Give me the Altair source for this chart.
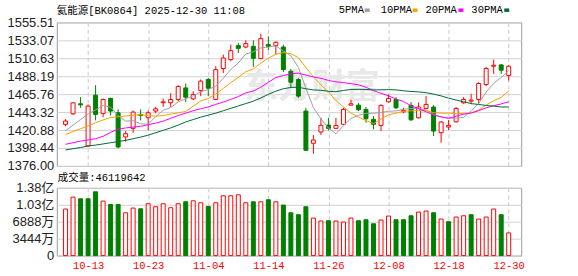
import altair as alt
import pandas as pd

# ---------------- data ----------------
dates = ["09-30", "10-09", "10-10", "10-13", "10-14", "10-15", "10-16", "10-17", "10-20", "10-21",
         "10-22", "10-23", "10-24", "10-27", "10-28", "10-29", "10-30", "10-31", "11-03", "11-04",
         "11-05", "11-06", "11-07", "11-10", "11-11", "11-12", "11-13", "11-14", "11-17", "11-18",
         "11-19", "11-20", "11-21", "11-24", "11-25", "11-26", "11-27", "11-28", "12-01", "12-02",
         "12-03", "12-04", "12-05", "12-08", "12-09", "12-10", "12-11", "12-12", "12-15", "12-16",
         "12-17", "12-18", "12-19", "12-22", "12-23", "12-24", "12-25", "12-26", "12-29", "12-30"]

open_ = [1428.0, 1441.2, 1453.7, 1400.9, 1464.5, 1441.7, 1460.4, 1442.4, 1412.2, 1423.0,
         1440.4, 1436.2, 1444.6, 1455.0, 1455.0, 1459.1, 1473.6, 1459.9, 1470.4, 1484.1,
         1459.1, 1497.8, 1509.0, 1526.5, 1524.7, 1525.6, 1510.3, 1527.7, 1526.5, 1524.7,
         1494.4, 1484.1, 1444.6, 1404.3, 1418.4, 1427.1, 1423.0, 1428.0, 1452.0, 1452.0,
         1446.7, 1434.2, 1426.7, 1456.2, 1459.1, 1443.7, 1451.7, 1436.2, 1447.9, 1449.6,
         1417.5, 1424.6, 1431.2, 1454.9, 1457.0, 1459.1, 1477.8, 1500.7, 1502.3, 1489.1]
high = [1434.6, 1455.8, 1462.0, 1453.0, 1477.0, 1460.4, 1461.5, 1446.7, 1419.6, 1445.4,
        1446.7, 1445.4, 1449.9, 1460.4, 1467.0, 1477.0, 1479.1, 1469.5, 1484.1, 1486.1,
        1500.7, 1515.2, 1527.7, 1529.7, 1533.1, 1533.1, 1541.4, 1538.0, 1531.8, 1527.7,
        1497.3, 1486.1, 1448.7, 1414.6, 1436.2, 1436.2, 1436.2, 1448.7, 1458.7, 1454.5,
        1449.6, 1438.3, 1452.9, 1465.4, 1462.0, 1448.7, 1455.8, 1455.4, 1463.3, 1452.0,
        1432.1, 1433.3, 1449.6, 1462.0, 1466.1, 1480.7, 1499.8, 1509.0, 1503.5, 1501.9]
low = [1425.5, 1439.6, 1448.7, 1399.5, 1433.0, 1437.0, 1439.2, 1398.1, 1406.3, 1417.5,
       1433.0, 1420.5, 1441.7, 1450.0, 1450.0, 1457.0, 1455.8, 1458.3, 1463.3, 1463.3,
       1458.3, 1492.3, 1506.9, 1517.2, 1523.1, 1499.8, 1509.4, 1520.6, 1515.2, 1493.2,
       1473.6, 1461.1, 1394.7, 1391.3, 1414.6, 1420.5, 1422.1, 1427.1, 1451.4, 1444.6,
       1430.0, 1421.7, 1419.6, 1455.2, 1447.1, 1442.0, 1432.1, 1435.2, 1447.1, 1413.4,
       1405.0, 1420.9, 1430.2, 1453.7, 1453.7, 1453.7, 1475.7, 1491.1, 1491.1, 1482.8]
close = [1432.1, 1454.9, 1452.4, 1450.8, 1440.4, 1459.1, 1444.6, 1399.7, 1416.3, 1443.3,
         1439.2, 1442.4, 1447.4, 1456.2, 1459.1, 1475.3, 1462.0, 1465.4, 1482.0, 1473.2,
         1496.5, 1511.0, 1520.2, 1523.1, 1529.0, 1510.6, 1535.2, 1525.6, 1530.6, 1496.5,
         1480.7, 1463.3, 1395.6, 1408.4, 1426.7, 1423.0, 1426.7, 1446.7, 1453.7, 1446.2,
         1435.0, 1428.0, 1451.7, 1460.4, 1448.7, 1445.4, 1433.7, 1449.6, 1452.9, 1419.6,
         1430.9, 1426.7, 1447.9, 1459.1, 1458.3, 1479.1, 1497.8, 1501.9, 1495.7, 1500.7]
# volume in units of 万 (10k)
volume_wan = [9460, 11890, 11550, 11550, 12970, 11080, 10400, 10400, 8710, 9660,
              9520, 10540, 9930, 10540, 9730, 10540, 10940, 11140, 10740, 9990,
              10740, 12160, 12160, 12360, 10740, 10940, 10940, 11350, 10940, 10270,
              8710, 8310, 9930, 7630, 7030, 7090, 7030, 6830, 7630, 7090,
              7290, 6480, 7230, 8040, 7290, 7290, 8100, 8850, 9060, 8710,
              7430, 6890, 7840, 8100, 8310, 7430, 7840, 9460, 8310, 4612]

ma5 = [1420, 1427, 1434, 1441, 1446.1, 1451.5, 1449.5, 1438.9, 1432.0, 1432.6,
       1428.6, 1428.2, 1437.7, 1445.7, 1448.9, 1456.1, 1460.0, 1463.6, 1468.8, 1471.6,
       1475.8, 1485.6, 1496.6, 1504.8, 1516.0, 1518.8, 1523.6, 1524.7, 1526.2, 1519.7,
       1513.7, 1499.3, 1473.3, 1448.9, 1434.9, 1423.4, 1416.1, 1426.3, 1435.4, 1439.3,
       1441.7, 1441.9, 1442.9, 1444.3, 1444.8, 1446.8, 1448.0, 1447.6, 1446.1, 1440.2,
       1437.3, 1435.9, 1435.6, 1436.8, 1444.6, 1454.2, 1468.4, 1479.2, 1486.6, 1495.0]
ma10 = [1415, 1419, 1422.5, 1426, 1430, 1433.5, 1436.5, 1437.5, 1438.5, 1439.4,
        1440.1, 1438.9, 1438.3, 1438.9, 1440.8, 1442.4, 1444.1, 1450.7, 1457.3, 1460.3,
        1466.0, 1472.8, 1480.1, 1486.8, 1493.8, 1497.3, 1504.6, 1510.7, 1515.5, 1517.9,
        1516.3, 1511.5, 1499.0, 1487.6, 1477.3, 1468.6, 1457.7, 1449.8, 1442.2, 1437.1,
        1432.6, 1429.0, 1434.6, 1439.9, 1442.1, 1444.3, 1445.0, 1445.3, 1445.2, 1442.5,
        1442.1, 1442.0, 1441.6, 1441.5, 1442.4, 1445.8, 1452.2, 1457.4, 1461.7, 1469.8]
ma20 = [1403, 1405, 1407, 1408.5, 1410, 1413, 1418, 1422, 1423.5, 1424.5,
        1425.5, 1427.5, 1429.5, 1432, 1435.5, 1439, 1442, 1445, 1447.5, 1449.8,
        1453.0, 1455.8, 1459.2, 1462.8, 1467.3, 1469.8, 1474.4, 1480.7, 1486.4, 1489.1,
        1491.1, 1492.1, 1489.6, 1487.2, 1485.6, 1482.9, 1481.2, 1480.2, 1478.8, 1477.5,
        1474.4, 1470.2, 1466.8, 1463.7, 1459.7, 1456.4, 1451.3, 1447.5, 1443.7, 1439.8,
        1437.3, 1435.5, 1438.1, 1440.7, 1442.2, 1445.0, 1448.6, 1451.3, 1453.5, 1456.2]
ma30 = [1396, 1397.5, 1399, 1401, 1402, 1403.5, 1405, 1406.5, 1408, 1410,
        1412, 1414.5, 1417.5, 1420.5, 1423.5, 1427, 1431, 1434, 1437, 1439.5,
        1442, 1445, 1448, 1451, 1454, 1457, 1461, 1465.5, 1469.5, 1472.5,
        1474.1, 1474.4, 1472.5, 1471.1, 1470.6, 1469.4, 1468.8, 1470.4, 1471.6, 1471.8,
        1471.6, 1471.1, 1471.2, 1471.4, 1471.1, 1470.0, 1469.1, 1468.6, 1467.6, 1465.8,
        1463.6, 1460.8, 1458.4, 1456.3, 1453.9, 1452.9, 1451.6, 1450.8, 1449.7, 1449.8]

ma_names = ["5PMA", "10PMA", "20PMA", "30PMA"]
ma_colors = ["#a0a0a0", "#f5a300", "#ff00ff", "#006a35"]

price_ticks = [1376.00, 1398.44, 1420.88, 1443.32, 1465.76, 1488.19, 1510.63, 1533.07, 1555.51]
vol_ticks = [0, 3444, 6888, 10332, 13776]
vol_tick_labels = ["0", "3444万", "6888万", "1.03亿", "1.38亿"]
date_tick_idx = [3, 11, 19, 27, 35, 43, 51, 59]

title_text = "氦能源[BK0864] 2025-12-30 11:08"
vol_title = "成交量:46119642"
watermark = "东方财富"

# ---------------- build tables ----------------
RED, GREEN = "#ff0000", "#008000"
n = len(dates)
df = pd.DataFrame({"i": list(range(n)), "date": dates, "open": open_, "high": high,
                   "low": low, "close": close, "vol": volume_wan})
df["dir"] = ["up" if c >= o else "down" for o, c in zip(open_, close)]
df["vdir"] = ["up" if (k == 0 or close[k] >= close[k - 1]) else "down" for k in range(n)]

ma_rows = []
for name, vals in zip(ma_names, [ma5, ma10, ma20, ma30]):
    for k, v in enumerate(vals):
        ma_rows.append({"i": k, "ma": name, "v": v})
ma_df = pd.DataFrame(ma_rows)

W, H1, H2 = 466, 144, 68
PAD_L, PAD_T, PAD_R, PAD_B = 56, 21, 56, 21
MONO = "Liberation Mono, Noto Sans CJK SC"
SANS = "Liberation Sans, Noto Sans CJK SC"

xscale = alt.Scale(domain=[-0.5, 60.0], nice=False, zero=False)
label_expr = "[" + ",".join("'" + d + "'" for d in dates) + "][datum.value]"

x_axis_top = alt.Axis(values=date_tick_idx, labels=False, ticks=False, domain=False, grid=True,
                      gridColor="#c8c8c8", gridDash=[4, 3], title=None)
x_axis_bot = alt.Axis(values=date_tick_idx, labelExpr=label_expr, ticks=False, domain=False,
                      grid=True, gridColor="#c8c8c8", gridDash=[4, 3], title=None,
                      labelColor=RED, labelFont=MONO, labelFontSize=10.5, labelPadding=5,
                      labelFlush=False, labelOverlap=False)

def X(axis):
    return alt.X("i:Q", scale=xscale, axis=axis)

pscale = alt.Scale(domain=[1376.0, 1555.51], nice=False, zero=False)
p_axis = alt.Axis(values=price_ticks, format=".2f", ticks=False, domain=False, grid=True,
                  gridColor="#d2d2d2", title=None, labelFont=SANS, labelFontSize=13,
                  labelColor="#222222", labelPadding=3, labelFlush=False, labelOverlap=False)

def PY(field):
    return alt.Y(field, type="quantitative", scale=pscale, axis=p_axis)

up_test = alt.datum.dir == "up"
one = pd.DataFrame({"t": [""]})

base = alt.Chart(df)

# invisible frame that fixes the outer margins of the page
frame_top = alt.Chart(one).mark_rect(opacity=0).encode(
    x=alt.value(-PAD_L), x2=alt.value(W + PAD_R), y=alt.value(-PAD_T), y2=alt.value(0))
frame_bot = alt.Chart(one).mark_rect(opacity=0).encode(
    x=alt.value(-PAD_L), x2=alt.value(W + PAD_R), y=alt.value(H2), y2=alt.value(H2 + PAD_B))

wm = alt.Chart(pd.DataFrame({"t": [watermark]})).mark_text(
    font=SANS, fontSize=34, fontWeight="bold", color="#e8e8e8", align="center", baseline="middle"
).encode(text="t:N", x=alt.value(256), y=alt.value(66))

wick = base.mark_rule(strokeWidth=1).encode(
    x=X(x_axis_top), y=PY("low"), y2="high",
    stroke=alt.condition(up_test, alt.value(RED), alt.value(GREEN)))

body = base.mark_bar(size=4, strokeWidth=1).encode(
    x=X(x_axis_top), y=PY("open"), y2="close",
    fill=alt.condition(up_test, alt.value("#ffffff"), alt.value(GREEN)),
    stroke=alt.condition(up_test, alt.value(RED), alt.value(GREEN)))

ma_lines = alt.Chart(ma_df).mark_line(strokeWidth=1).encode(
    x=X(x_axis_top), y=PY("v"),
    color=alt.Color("ma:N", scale=alt.Scale(domain=ma_names, range=ma_colors), legend=None),
    detail="ma:N")

title_mark = alt.Chart(pd.DataFrame({"t": [title_text]})).mark_text(
    font=MONO, fontSize=10.5, color="#000000", align="left", baseline="middle"
).encode(text="t:N", x=alt.value(0), y=alt.value(-11))

legend_layers = []
text_x = [283, 325, 370, 416]
sq_x = [309, 357, 403, 449]
for name, col, tx, sx in zip(ma_names, ma_colors, text_x, sq_x):
    legend_layers.append(
        alt.Chart(pd.DataFrame({"t": [name]})).mark_text(
            font=MONO, fontSize=10.5, color="#000000", align="left", baseline="middle"
        ).encode(text="t:N", x=alt.value(tx), y=alt.value(-12.5)))
    legend_layers.append(
        alt.Chart(pd.DataFrame({"t": [name]})).mark_rect(color=col).encode(
            x=alt.value(sx), x2=alt.value(sx + 5), y=alt.value(-14), y2=alt.value(-10.5)))

price_panel = alt.layer(frame_top, wm, wick, body, ma_lines, title_mark, *legend_layers).properties(
    width=W, height=H1)

vscale = alt.Scale(domain=[0, 13776], nice=False, zero=True)
vlab_expr = "[" + ",".join("'" + s + "'" for s in vol_tick_labels) + "][indexof([" + \
    ",".join(str(v) for v in vol_ticks) + "], datum.value)]"
v_axis = alt.Axis(values=vol_ticks, labelExpr=vlab_expr, ticks=False, domain=False, grid=True,
                  gridColor="#d2d2d2", title=None, labelFont=SANS, labelFontSize=13,
                  labelColor="#222222", labelPadding=3, labelFlush=False, labelOverlap=False)

vup = alt.datum.vdir == "up"
vol_bars = base.mark_bar(size=4, strokeWidth=1).encode(
    x=X(x_axis_bot), y=alt.Y("vol:Q", scale=vscale, axis=v_axis),
    fill=alt.condition(vup, alt.value("#ffffff"), alt.value(GREEN)),
    stroke=alt.condition(vup, alt.value(RED), alt.value(GREEN)))

vol_title_mark = alt.Chart(pd.DataFrame({"t": [vol_title]})).mark_text(
    font=MONO, fontSize=10.5, color="#000000", align="left", baseline="middle"
).encode(text="t:N", x=alt.value(1), y=alt.value(-10))

vol_panel = alt.layer(frame_bot, vol_bars, vol_title_mark).properties(width=W, height=H2)

chart = alt.vconcat(price_panel, vol_panel, spacing=22).properties(
    autosize=alt.AutoSizeParams(type="pad"),
    padding=0,
    bounds="flush",
    background="#ffffff",
).configure_view(stroke="#999999", strokeWidth=1)

chart.save("out.html", embed_options={"renderer": "svg", "actions": False})
